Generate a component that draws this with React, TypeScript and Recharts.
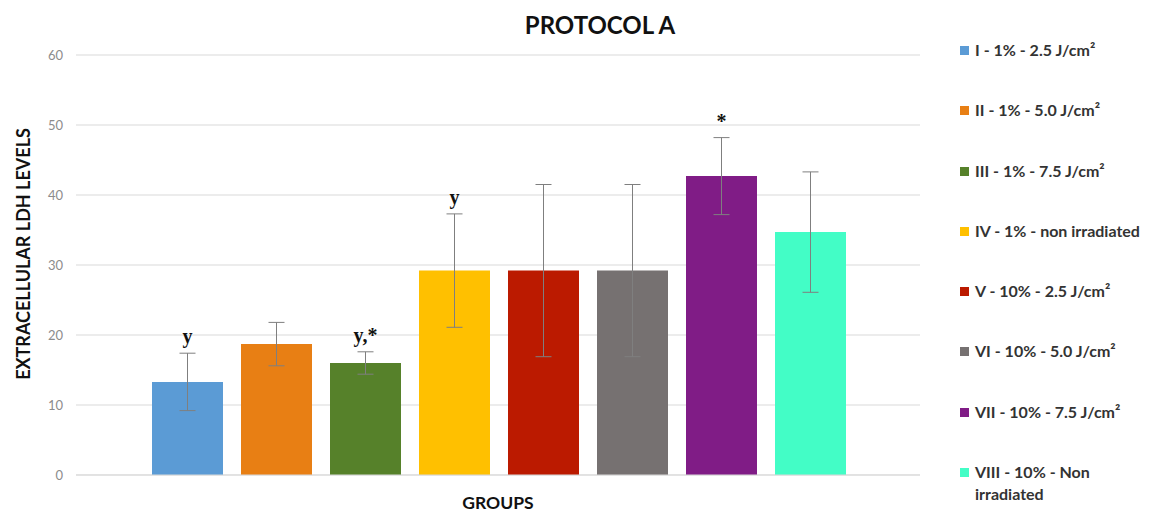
import React from "react";
import { Bar, BarChart, CartesianGrid, ErrorBar, LabelList, Legend, XAxis, YAxis } from "recharts";

const groups = [
	"I - 1% - 2.5 J/cm²",
	"II - 1% - 5.0 J/cm²",
	"III - 1% - 7.5 J/cm²",
	"IV - 1% - non irradiated",
	"V - 10% - 2.5 J/cm²",
	"VI - 10% - 5.0 J/cm²",
	"VII - 10% - 7.5 J/cm²",
	"VIII - 10% - Non irradiated",
];
const means = [13.3, 18.7, 16.0, 29.2, 29.2, 29.2, 42.7, 34.7];
const errors = [4.1, 3.1, 1.6, 8.1, 12.3, 12.3, 5.5, 8.6];
const marks = ["y", "", "y,*", "y", "", "", "*", ""];
const colors = ["#5b9bd5", "#e87f14", "#56812a", "#ffc000", "#bb1a00", "#767171", "#801c86", "#43fdc6"];
const yTicks = [0, 10, 20, 30, 40, 50, 60];

// one category, eight series (like the excel original)
const row: Record<string, number | string> = { group: "" };
groups.forEach((_, i) => {
	row[`g${i}`] = means[i];
	row[`g${i}Err`] = errors[i];
});
const data = [row];

const font = "Lato, 'Liberation Sans', sans-serif";

const markLabel = (i: number) => (props: any) => {
	const { x, y, width, height, value } = props;
	if (!marks[i]) return null;
	const perUnit = Number(height) / Number(value);
	const top = Number(y) - errors[i] * perUnit;
	return (
		<text
			x={Number(x) + Number(width) / 2}
			y={top - 10}
			textAnchor="middle"
			fontFamily="'Liberation Serif', 'Times New Roman', serif"
			fontWeight="bold"
			fontSize={20}
			fill="#111"
		>
			{marks[i]}
		</text>
	);
};

const LegendList = (props: any) => {
	const { payload } = props;
	return (
		<div style={{ fontFamily: font, fontWeight: "bold", fontSize: 16, color: "#333" }}>
			{payload.map((p: any) => (
				<div key={p.value} style={{ height: 60.3, display: "flex", alignItems: "flex-start" }}>
					<span
						style={{ width: 9, height: 9, background: p.color, marginTop: 7, marginRight: 6, flex: "none" }}
					/>
					<span style={{ lineHeight: "22px", width: 172 }}>{p.value}</span>
				</div>
			))}
		</div>
	);
};

const YTitle = (props: any) => {
	const { viewBox } = props;
	const cx = 15;
	const cy = viewBox.y + viewBox.height / 2 - 11;
	return (
		<text
			x={cx}
			y={cy}
			transform={`rotate(-90, ${cx}, ${cy})`}
			textAnchor="middle"
			dominantBaseline="central"
			fontFamily={font}
			fontWeight="bold"
			fontSize={18}
			fill="#111"
		>
			EXTRACELLULAR LDH LEVELS
		</text>
	);
};

export default function App() {
	return (
		<div style={{ position: "relative", width: 1145, height: 505 }}>
			<div
				style={{
					position: "absolute",
					left: 0,
					top: 2,
					width: 1184,
					textAlign: "center",
					fontFamily: font,
					fontWeight: "bold",
					fontSize: 24,
					color: "#111",
					pointerEvents: "none",
				}}
			>
				PROTOCOL A
			</div>
			<BarChart
				width={1145}
				height={505}
				data={data}
				margin={{ top: 47, right: 43, bottom: 0, left: 0 }}
				barCategoryGap={76}
				barGap={18}
			>
				<CartesianGrid vertical={false} stroke="#d9d9d9" />
				<XAxis
					dataKey="group"
					tick={false}
					tickLine={false}
					axisLine={{ stroke: "#d9d9d9" }}
					height={38}
					label={{
						value: "GROUPS",
						position: "insideBottom",
						offset: 4,
						fontFamily: font,
						fontWeight: "bold",
						fontSize: 17.5,
						fill: "#111",
					}}
				/>
				<YAxis
					domain={[0, 60]}
					ticks={yTicks}
					width={68}
					axisLine={false}
					tickLine={false}
					tickMargin={7}
					tick={{ fontFamily: font, fontSize: 13, fill: "#8c8c8c" }}
					label={<YTitle />}
				/>
				<Legend
					layout="vertical"
					align="right"
					verticalAlign="top"
					width={190}
					wrapperStyle={{ left: 952, top: 31 }}
					content={<LegendList />}
				/>
				{groups.map((g, i) => (
					<Bar key={g} dataKey={`g${i}`} name={g} fill={colors[i]} isAnimationActive={false}>
						<ErrorBar dataKey={`g${i}Err`} width={8} stroke="#7f7f7f" strokeWidth={1} />
						<LabelList dataKey={`g${i}`} content={markLabel(i)} />
					</Bar>
				))}
			</BarChart>
		</div>
	);
}
